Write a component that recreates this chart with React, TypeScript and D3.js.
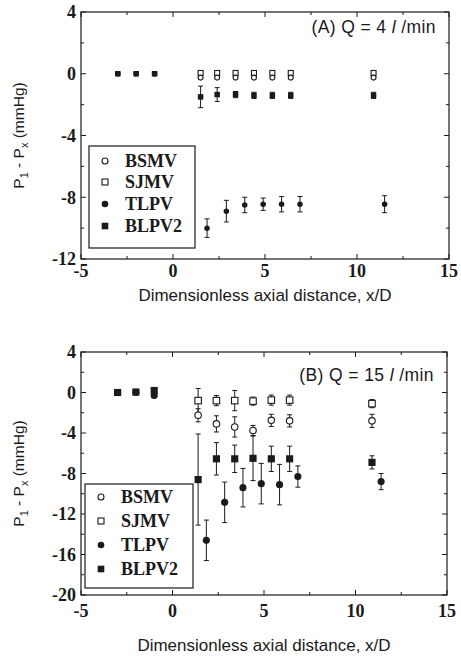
import React from 'react';
import * as d3 from 'd3';

const W = 461, H = 658;

// shared axis info
const xTickVals = [-5, 0, 5, 10, 15];
const xMinorVals = [-2.5, 2.5, 7.5, 12.5];
const yTicksA = [4, 0, -4, -8, -12];
const yTicksB = [4, 0, -4, -8, -12, -16, -20];
const seriesNames = ['BSMV', 'SJMV', 'TLPV', 'BLPV2'];

// upstream points (both panels)
const xUp = [-3, -2, -1];
const A_upBLPV2 = [0, 0, 0];
const A_upTLPV = [0, 0, 0];
const B_upBLPV2 = [0, 0.05, 0.2];
const B_upTLPV = [0, 0, -0.3];

// Panel A (Q = 4 l/min)
const A_xDown = [1.5, 2.4, 3.4, 4.4, 5.4, 6.4, 10.9];
const A_BSMV = [-0.25, -0.25, -0.25, -0.25, -0.25, -0.25, -0.25];
const A_BSMVerr = [0, 0, 0, 0, 0, 0, 0];
const A_SJMV = [0.05, 0.05, 0.05, 0.05, 0.05, 0.05, 0.05];
const A_SJMVerr = [0, 0, 0, 0, 0, 0, 0];
const A_BLPV2 = [-1.5, -1.35, -1.35, -1.4, -1.4, -1.4, -1.4];
const A_BLPV2err = [0.7, 0.45, 0.2, 0.2, 0.2, 0.2, 0.2];
const A_xTLPV = [1.85, 2.9, 3.9, 4.9, 5.9, 6.9, 11.5];
const A_TLPV = [-10, -8.9, -8.5, -8.45, -8.45, -8.45, -8.45];
const A_TLPVerr = [0.6, 0.7, 0.5, 0.4, 0.5, 0.5, 0.55];

// Panel B (Q = 15 l/min)
const B_xDown = [1.4, 2.4, 3.4, 4.4, 5.4, 6.4, 10.9];
const B_SJMV = [-0.8, -0.8, -0.8, -0.85, -0.75, -0.75, -1.1];
const B_SJMVerr = [1.2, 0.5, 1.0, 0.4, 0.5, 0.5, 0.4];
const B_BSMV = [-2.25, -3.1, -3.4, -3.75, -2.75, -2.8, -2.8];
const B_BSMVerr = [0.65, 0.8, 1.0, 0.5, 0.6, 0.6, 0.65];
const B_BLPV2 = [-8.6, -6.55, -6.55, -6.5, -6.55, -6.55, -6.9];
const B_BLPV2err = [4.5, 1.6, 1.35, 2.2, 1.25, 1.25, 0.65];
const B_xTLPV = [1.85, 2.85, 3.85, 4.85, 5.85, 6.85, 11.4];
const B_TLPV = [-14.6, -10.85, -9.4, -9.0, -9.1, -8.3, -8.8];
const B_TLPVerr = [2.0, 2.0, 1.9, 2.0, 2.0, 1.05, 0.8];

const INK = '#1a1a1a';
const SERIF = '"Liberation Serif", "DejaVu Serif", serif';
const SANS = '"Liberation Sans", Arial, sans-serif';

type Series = { xs: number[]; ys: number[]; errs: number[]; kind: 'oc' | 'os' | 'fc' | 'fs' };

function Marker({ kind, cx, cy, s }: { kind: string; cx: number; cy: number; s: number }) {
  if (kind === 'oc') return <circle cx={cx} cy={cy} r={s * 0.5} fill="#fff" stroke={INK} strokeWidth={1.1} />;
  if (kind === 'os') return <rect x={cx - s * 0.5} y={cy - s * 0.5} width={s} height={s} fill="#fff" stroke={INK} strokeWidth={1.1} />;
  if (kind === 'fc') return <circle cx={cx} cy={cy} r={s * 0.55} fill={INK} />;
  return <rect x={cx - s * 0.55} y={cy - s * 0.55} width={s * 1.1} height={s * 1.1} fill={INK} />;
}

function Panel(props: {
  top: number; bottom: number; left: number; right: number;
  yMin: number; yMax: number; yTicks: number[];
  series: Series[]; title: string; titleY: number; titleX: number;
  xLabelY: number; xTitleY: number; mSize: number;
  legend: { x0: number; y0: number; x1: number; y1: number; rows: number[] };
}) {
  const { top, bottom, left, right, yMin, yMax, yTicks, series, mSize, legend } = props;
  const x = d3.scaleLinear().domain([-5, 15]).range([left, right]);
  const y = d3.scaleLinear().domain([yMin, yMax]).range([bottom, top]);
  const yMinor = d3.range(yMin, yMax + 0.01, 2).filter(v => !yTicks.includes(v));
  const kinds = ['oc', 'os', 'fc', 'fs'];
  return (
    <g>
      <rect x={left} y={top} width={right - left} height={bottom - top} fill="none" stroke={INK} strokeWidth={1.2} />
      {xTickVals.map(v => (
        <g key={'xt' + v}>
          <line x1={x(v)} x2={x(v)} y1={bottom} y2={bottom - 5} stroke={INK} />
          <line x1={x(v)} x2={x(v)} y1={top} y2={top + 5} stroke={INK} />
          <text x={x(v)} y={props.xLabelY} textAnchor="middle" fontFamily={SERIF} fontWeight="bold" fontSize={18} fill={INK}>{v}</text>
        </g>
      ))}
      {xMinorVals.map(v => (
        <g key={'xm' + v}>
          <line x1={x(v)} x2={x(v)} y1={bottom} y2={bottom - 3} stroke={INK} />
          <line x1={x(v)} x2={x(v)} y1={top} y2={top + 3} stroke={INK} />
        </g>
      ))}
      {yTicks.map(v => (
        <g key={'yt' + v}>
          <line x1={left} x2={left + 5} y1={y(v)} y2={y(v)} stroke={INK} />
          <line x1={right} x2={right - 5} y1={y(v)} y2={y(v)} stroke={INK} />
          <text x={left - 5} y={y(v)} dy="0.35em" textAnchor="end" fontFamily={SERIF} fontWeight="bold" fontSize={18} fill={INK}>{v}</text>
        </g>
      ))}
      {yMinor.map(v => (
        <g key={'ym' + v}>
          <line x1={left} x2={left + 3} y1={y(v)} y2={y(v)} stroke={INK} />
          <line x1={right} x2={right - 3} y1={y(v)} y2={y(v)} stroke={INK} />
        </g>
      ))}
      {/* error bars */}
      {series.map((s, si) => s.xs.map((xv, i) => {
        const e = s.errs[i];
        if (!e) return null;
        const cx = x(xv);
        return (
          <g key={'e' + si + '-' + i} stroke={INK} strokeWidth={1}>
            <line x1={cx} x2={cx} y1={y(s.ys[i] + e)} y2={y(s.ys[i] - e)} />
            <line x1={cx - 2.5} x2={cx + 2.5} y1={y(s.ys[i] + e)} y2={y(s.ys[i] + e)} />
            <line x1={cx - 2.5} x2={cx + 2.5} y1={y(s.ys[i] - e)} y2={y(s.ys[i] - e)} />
          </g>
        );
      }))}
      {series.map((s, si) => s.xs.map((xv, i) => (
        <Marker key={'m' + si + '-' + i} kind={s.kind} cx={x(xv)} cy={y(s.ys[i])} s={mSize} />
      )))}
      <text x={props.titleX} y={props.titleY} textAnchor="end" fontFamily={SANS} fontSize={17.5} letterSpacing={0.4} fill={INK}>
        {props.title}<tspan fontStyle="italic">l</tspan> /min
      </text>
      <text transform={`translate(24,${(top + bottom) / 2}) rotate(-90)`} textAnchor="middle" fontFamily={SANS} fontSize={15.5} fill={INK}>
        P<tspan fontSize={11} dy={4}>1</tspan><tspan dy={-4}> - P</tspan><tspan fontSize={11} dy={4}>x</tspan><tspan dy={-4}> (mmHg)</tspan>
      </text>
      <text x={(left + right) / 2} y={props.xTitleY} textAnchor="middle" fontFamily={SANS} fontSize={17} fill={INK}>
        Dimensionless axial distance, x/D
      </text>
      <rect x={legend.x0} y={legend.y0} width={legend.x1 - legend.x0} height={legend.y1 - legend.y0} fill="#fff" stroke={INK} strokeWidth={1.2} />
      {seriesNames.map((n, i) => (
        <g key={'lg' + n}>
          <Marker kind={kinds[i]} cx={legend.x0 + 16} cy={legend.rows[i]} s={6} />
          <text x={legend.x0 + 36} y={legend.rows[i]} dy="0.35em" fontFamily={SERIF} fontWeight="bold" fontSize={18} fill={INK}>{n}</text>
        </g>
      ))}
    </g>
  );
}

export default function App() {
  const seriesA: Series[] = [
    { xs: xUp, ys: A_upTLPV, errs: [0, 0, 0], kind: 'fc' },
    { xs: xUp, ys: A_upBLPV2, errs: [0, 0, 0], kind: 'fs' },
    { xs: A_xDown, ys: A_BLPV2, errs: A_BLPV2err, kind: 'fs' },
    { xs: A_xTLPV, ys: A_TLPV, errs: A_TLPVerr, kind: 'fc' },
    { xs: A_xDown, ys: A_SJMV, errs: A_SJMVerr, kind: 'os' },
    { xs: A_xDown, ys: A_BSMV, errs: A_BSMVerr, kind: 'oc' },
  ];
  const seriesB: Series[] = [
    { xs: xUp, ys: B_upTLPV, errs: [0, 0, 0], kind: 'fc' },
    { xs: xUp, ys: B_upBLPV2, errs: [0, 0, 0], kind: 'fs' },
    { xs: B_xDown, ys: B_BLPV2, errs: B_BLPV2err, kind: 'fs' },
    { xs: B_xTLPV, ys: B_TLPV, errs: B_TLPVerr, kind: 'fc' },
    { xs: B_xDown, ys: B_SJMV, errs: B_SJMVerr, kind: 'os' },
    { xs: B_xDown, ys: B_BSMV, errs: B_BSMVerr, kind: 'oc' },
  ];
  return (
    <svg width={W} height={H} style={{ position: 'absolute', left: 0, top: 0, background: '#fff' }}>
      <rect width={W} height={H} fill="#fff" />
      <Panel top={12} bottom={259} left={81} right={449} yMin={-12} yMax={4} yTicks={yTicksA}
        series={seriesA} title="(A)  Q = 4 " titleX={436} titleY={33}
        xLabelY={277} xTitleY={301} mSize={5}
        legend={{ x0: 89, y0: 146, x1: 195, y1: 248, rows: [161, 182, 204, 226] }} />
      <Panel top={352} bottom={595} left={81} right={447} yMin={-20} yMax={4} yTicks={yTicksB}
        series={seriesB} title="(B)  Q = 15 " titleX={434} titleY={381}
        xLabelY={617} xTitleY={651} mSize={6.5}
        legend={{ x0: 85, y0: 484, x1: 193, y1: 588, rows: [497, 521, 545, 569] }} />
    </svg>
  );
}
